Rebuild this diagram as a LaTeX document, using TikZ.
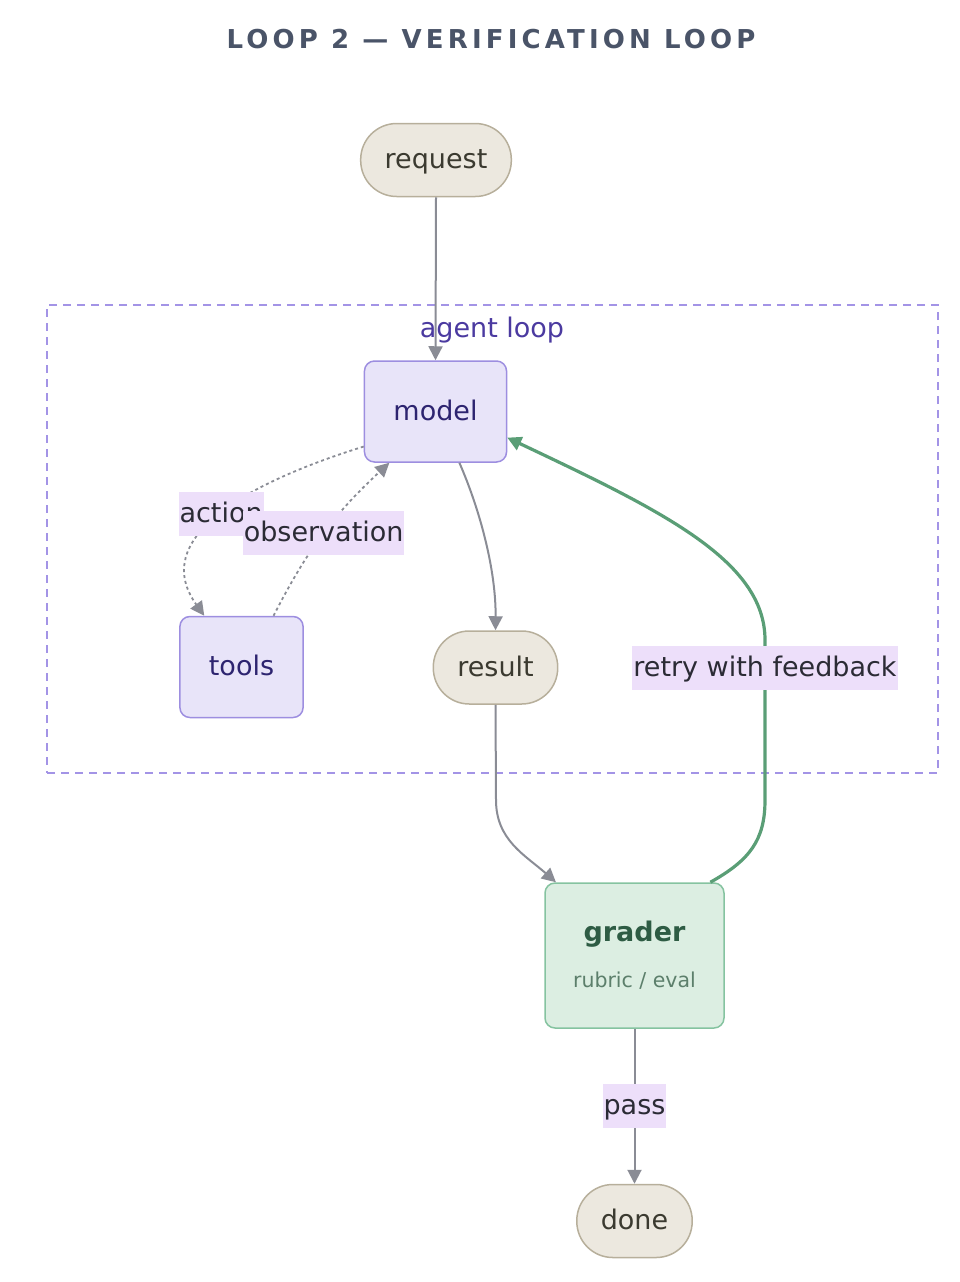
\documentclass[tikz,border=0pt]{standalone}
\usepackage{fontspec}
\setmainfont{DejaVu Sans}
\newfontfamily\titlefont[LetterSpace=16]{DejaVu Sans}
\usetikzlibrary{arrows.meta}

\definecolor{titleink}{HTML}{4A5468}
\definecolor{termfill}{HTML}{ECE8DF}
\definecolor{termdraw}{HTML}{B7AF9B}
\definecolor{termink}{HTML}{3B3A30}
\definecolor{agentfill}{HTML}{E8E4F9}
\definecolor{agentdraw}{HTML}{9D8EE0}
\definecolor{agentink}{HTML}{2D2470}
\definecolor{loopdraw}{HTML}{A394E6}
\definecolor{loopink}{HTML}{4B3AA0}
\definecolor{checkfill}{HTML}{DCEEE2}
\definecolor{checkdraw}{HTML}{85C3A0}
\definecolor{checkink}{HTML}{2E5C44}
\definecolor{checksub}{HTML}{5C7F6B}
\definecolor{retrygreen}{HTML}{5A9E76}
\definecolor{edgegray}{HTML}{8A8C95}
\definecolor{lblfill}{HTML}{EDDFFA}
\definecolor{lblink}{HTML}{2B2B35}

\tikzset{
  titletext/.style={font=\titlefont\bfseries\fontsize{26}{30}\selectfont, text=titleink},
  boxtext/.style={font=\fontsize{27}{32}\selectfont, text height=22pt, text depth=5pt},
  term/.style={boxtext, draw=termdraw, fill=termfill, text=termink, line width=1.5pt,
    rounded corners=36pt, minimum height=73pt, inner xsep=24pt},
  agent/.style={boxtext, draw=agentdraw, fill=agentfill, text=agentink, line width=1.5pt,
    rounded corners=10pt, minimum height=101pt, inner xsep=29pt},
  check/.style={draw=checkdraw, fill=checkfill, text=checkink, line width=1.5pt,
    rounded corners=10pt, minimum width=179pt, minimum height=145pt,
    align=center, font=\fontsize{27}{32}\selectfont},
  loopframe/.style={draw=loopdraw, line width=2pt, dash pattern=on 8pt off 6pt},
  looplabel/.style={text=loopink, font=\fontsize{27}{32}\selectfont},
  edgelabel/.style={boxtext, fill=lblfill, text=lblink, inner xsep=1pt, inner ysep=0pt,
    minimum height=44pt},
  flow/.style={draw=edgegray, line width=2pt, -{Triangle[length=14pt, width=14pt]}},
  probe/.style={flow, line width=1.8pt, dash pattern=on 3pt off 3pt},
  retry/.style={draw=retrygreen, line width=3.2pt, -{Triangle[length=14pt, width=14pt]}}
}

\begin{document}
\begin{tikzpicture}[x=1pt, y=1pt]

    \useasboundingbox (0,0) rectangle (960,-1282);

    % === Title ===
    \node[titletext] (title) at (491,-39) {LOOP 2 — VERIFICATION LOOP};

    % === Agent loop frame ===
    \node[loopframe, minimum width=891pt, minimum height=468pt] (agentloop) at (492.5,-539) {};
    \node[looplabel] (looplbl) at (492,-330) {agent loop};

    % === Nodes ===
    \node[term] (request) at (436,-160) {request};
    \node[agent] (model) at (435.5,-411.5) {model};
    \node[agent] (tools) at (241.5,-667) {tools};
    \node[term] (result) at (495.5,-667.5) {result};
    \node[check] (grader) at (634.5,-955.5)
        {\textbf{grader}\\[14pt]{\fontsize{20.5}{24}\selectfont\color{checksub}rubric / eval}};
    \node[term] (done) at (634.5,-1221) {done};

    % === Main path ===
    \draw[flow] (request.south) -- (model.north);
    \draw[flow] (model.295) .. controls (480,-510) and (496,-570) .. (result.north);
    \draw[flow] (result.south) -- (496,-800) .. controls (496,-840) and (525,-855) .. (grader.137);

    % === Tool calls (dotted) ===
    \draw[probe] (model.206) .. controls (240,-485) and (150,-540) .. (tools.126)
        node[edgelabel, pos=0.48] (act) {action};
    \draw[probe] (tools.58) to[bend left=10] node[edgelabel] (obs) {observation} (model.228);

    % === Retry loop ===
    \draw[retry] (grader.44) .. controls (750,-860) and (765,-840) .. (765,-800)
        -- (765,-640) node[edgelabel, pos=0.825] (fb) {retry with feedback}
        .. controls (765,-560) and (660,-510) .. (model.340);

    % === Exit ===
    \draw[flow] (grader.south) -- node[edgelabel] (pass) {pass} (done.north);

\end{tikzpicture}
\end{document}
